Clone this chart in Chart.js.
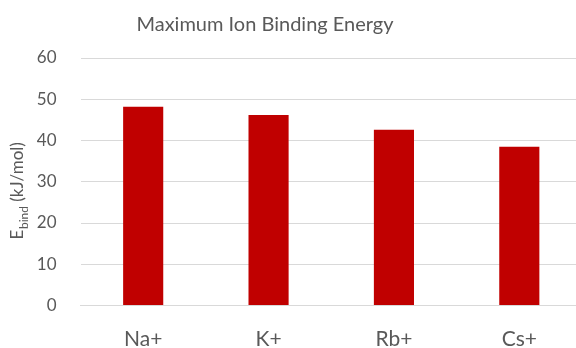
<!DOCTYPE html>
<html><head><meta charset="utf-8">
<script src="https://cdn.jsdelivr.net/npm/chart.js@4/dist/chart.umd.min.js"></script>
<style>html,body{margin:0;padding:0;overflow:hidden;background:#fff;width:576px;height:348px}</style>
</head><body>
<canvas id="c" width="582" height="348"></canvas>
<script>
const categories = ["Na+", "K+", "Rb+", "Cs+"];
const energies = [48.2, 46.2, 42.6, 38.5];
const yTicks = [0, 10, 20, 30, 40, 50, 60];
const titleText = "Maximum Ion Binding Energy";
const yTitleMain = "E";
const yTitleSub = "bind";
const yTitleRest = " (kJ/mol)";

const FONT = "Lato, 'Open Sans', sans-serif";
const TXT = "#595959";

const textPlugin = {
  id: "texts",
  afterDraw(chart) {
    const ctx = chart.ctx;
    // chart title
    ctx.save();
    ctx.fillStyle = TXT;
    ctx.font = "20px " + FONT;
    ctx.textAlign = "center";
    ctx.textBaseline = "alphabetic";
    ctx.fillText(titleText, 265, 31);
    ctx.restore();
    // y axis title with subscript
    ctx.save();
    ctx.translate(18, 191);
    ctx.rotate(-Math.PI / 2);
    ctx.fillStyle = TXT;
    ctx.textBaseline = "middle";
    ctx.textAlign = "left";
    const big = "17px " + FONT, small = "12px " + FONT;
    ctx.font = big; const w1 = ctx.measureText(yTitleMain).width; const w3 = ctx.measureText(yTitleRest).width;
    ctx.font = small; const w2 = ctx.measureText(yTitleSub).width;
    let x = -(w1 + w2 + w3) / 2;
    ctx.font = big; ctx.fillText(yTitleMain, x, 0); x += w1;
    ctx.font = small; ctx.fillText(yTitleSub, x + 0.5, 6); x += w2 + 0.5;
    ctx.font = big; ctx.fillText(yTitleRest, x, 0);
    ctx.restore();
  }
};

new Chart(document.getElementById("c"), {
  type: "bar",
  data: {
    labels: categories,
    datasets: [{
      data: energies,
      backgroundColor: "#C00000",
      borderWidth: 0,
      barPercentage: 0.32,
      categoryPercentage: 1
    }]
  },
  options: {
    responsive: false,
    animation: false,
    layout: { padding: { top: 58, left: 0, right: 0, bottom: 0 } },
    plugins: {
      legend: { display: false },
      tooltip: { enabled: false },
      title: { display: false }
    },
    scales: {
      x: {
        grid: { display: false, drawTicks: false },
        border: { display: true, color: "#d9d9d9", width: 1 },
        ticks: { color: TXT, font: { family: FONT, size: 21 }, padding: 21 },
        afterFit(s) { s.height = 42.5; }
      },
      y: {
        min: 0, max: 60,
        afterBuildTicks(s) { s.ticks = yTicks.map(v => ({ value: v })); },
        grid: { color: "#d9d9d9", lineWidth: 1, drawTicks: false },
        border: { display: false },
        ticks: { color: TXT, font: { family: FONT, size: 17 }, padding: 24 },
        afterFit(s) { s.width = 80.5; }
      }
    }
  },
  plugins: [textPlugin]
});
</script>
</body></html>
